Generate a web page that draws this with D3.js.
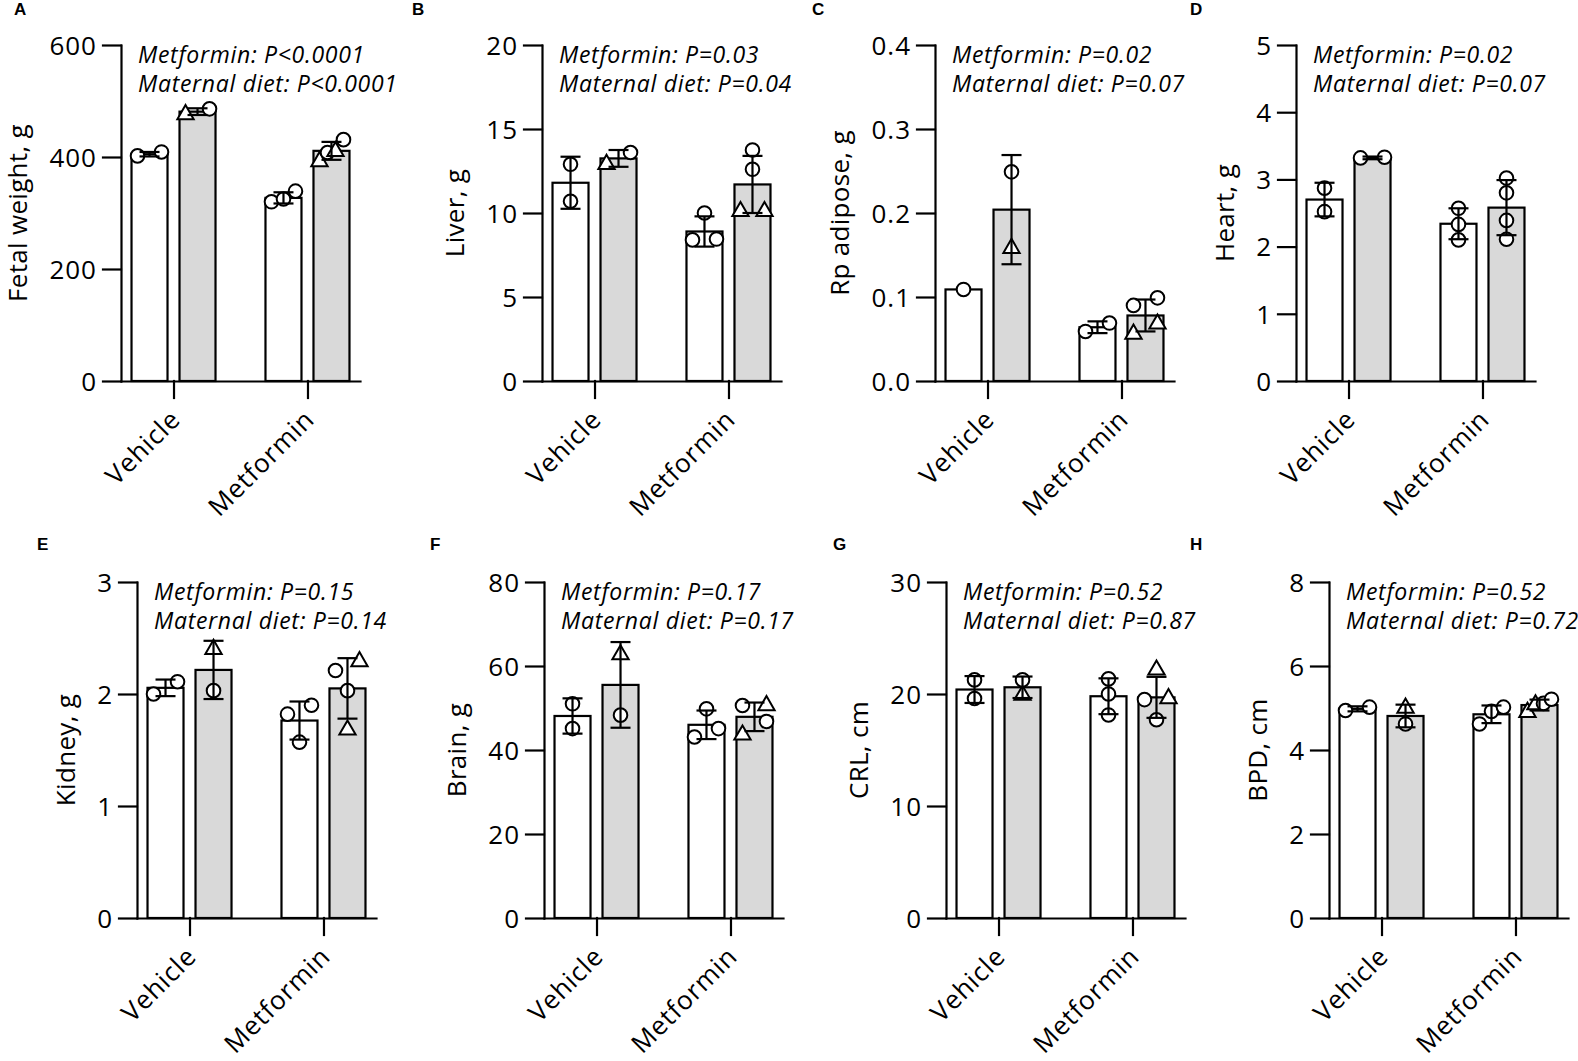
<!DOCTYPE html>
<html>
<head>
<meta charset="utf-8">
<script src="https://cdn.jsdelivr.net/npm/d3@7"></script>
<style>
    html, body { margin: 0; padding: 0; background: #fff; }
    svg { display: block; }
    text { font-family: "Open Sans", sans-serif; fill: #000; }
    .panel-letter { font-family: "Liberation Sans", Arial, sans-serif; font-weight: bold; font-size: 17px; }
    .tick-label { font-size: 26px; letter-spacing: 1px; }
    .axis-title { font-size: 26px; letter-spacing: 0.3px; }
    .cat-label { font-size: 26px; letter-spacing: 0.9px; }
    .pval { font-size: 23px; font-style: italic; letter-spacing: 0.7px; }
</style>
</head>
<body>
<div id="chart"></div>
<script>
// Datos
const PANEL_LETTERS = ['A', 'B', 'C', 'D', 'E', 'F', 'G', 'H'];
const Y_TITLES = ['Fetal weight, g', 'Liver, g', 'Rp adipose, g', 'Heart, g',
                  'Kidney, g', 'Brain, g', 'CRL, cm', 'BPD, cm'];
const Y_MAX = [600, 20, 0.4, 5, 3, 80, 30, 8];
const Y_STEP = [200, 5, 0.1, 1, 1, 20, 10, 2];
const Y_DECIMALS = [0, 0, 1, 0, 0, 0, 0, 0];
const P_METFORMIN = ['P<0.0001', 'P=0.03', 'P=0.02', 'P=0.02', 'P=0.15', 'P=0.17', 'P=0.52', 'P=0.52'];
const P_DIET = ['P<0.0001', 'P=0.04', 'P=0.07', 'P=0.07', 'P=0.14', 'P=0.17', 'P=0.87', 'P=0.72'];
const GROUPS = ['Vehicle', 'Metformin'];
const DIETS = ['control', 'diet'];

// barras por panel: [Vehicle-control, Vehicle-diet, Metformin-control, Metformin-diet]
const MEANS = [
    [405, 481, 327, 411],
    [11.8, 13.25, 8.9, 11.7],
    [0.109, 0.204, 0.064, 0.078],
    [2.70, 3.32, 2.34, 2.58],
    [2.055, 2.215, 1.763, 2.05],
    [48.1, 55.5, 46.0, 47.9],
    [20.4, 20.6, 19.8, 19.7],
    [4.98, 4.81, 4.85, 5.07]
];
const SDS = [
    [4, 6, 10, 16],
    [1.55, 0.5, 0.9, 1.7],
    [0, 0.065, 0.007, 0.019],
    [0.25, 0.02, 0.23, 0.41],
    [0.074, 0.26, 0.17, 0.27],
    [4.2, 10.2, 3.4, 3.4],
    [1.2, 0.96, 1.6, 1.83],
    [0.06, 0.27, 0.21, 0.13]
];
// puntos individuales: [valor, forma] (o = circulo, t = triangulo)
const POINTS = [
    [[[402, 'o'], [409, 'o']], [[476, 't'], [486, 'o']],
     [[320, 'o'], [339, 'o'], [325, 'o']], [[392, 't'], [410, 't'], [408, 'o'], [431, 'o']]],
    [[[12.9, 'o'], [10.7, 'o']], [[12.9, 't'], [13.6, 'o']],
     [[8.4, 'o'], [8.45, 'o'], [10.0, 'o']], [[10.1, 't'], [10.1, 't'], [12.6, 'o'], [13.75, 'o']]],
    [[[0.109, 'o']], [[0.249, 'o'], [0.158, 't']],
     [[0.059, 'o'], [0.069, 'o']], [[0.056, 't'], [0.068, 't'], [0.090, 'o'], [0.099, 'o']]],
    [[[2.87, 'o'], [2.52, 'o']], [[3.32, 'o'], [3.33, 'o']],
     [[2.57, 'o'], [2.33, 'o'], [2.10, 'o']], [[3.02, 'o'], [2.80, 'o'], [2.39, 'o'], [2.11, 'o']]],
    [[[2.0, 'o'], [2.11, 'o']], [[2.40, 't'], [2.03, 'o']],
     [[1.90, 'o'], [1.82, 'o'], [1.57, 'o']], [[2.21, 'o'], [2.29, 't'], [2.03, 'o'], [1.68, 't']]],
    [[[51.0, 'o'], [45.1, 'o']], [[62.7, 't'], [48.3, 'o']],
     [[49.8, 'o'], [43.1, 'o'], [45.1, 'o']], [[50.6, 'o'], [50.6, 't'], [46.8, 'o'], [43.6, 't']]],
    [[[21.26, 'o'], [19.6, 'o']], [[21.26, 'o'], [19.9, 't']],
     [[21.35, 'o'], [20.0, 'o'], [18.13, 'o']], [[22.16, 't'], [19.5, 'o'], [19.6, 't'], [17.7, 'o']]],
    [[[4.94, 'o'], [5.02, 'o']], [[5.0, 't'], [4.62, 'o']],
     [[5.02, 'o'], [4.92, 'o'], [4.62, 'o']], [[4.9, 't'], [5.08, 't'], [5.21, 'o'], [5.11, 'o']]]
];

// Layout
const WIDTH = 1578;
const HEIGHT = 1061;
const PLOT_W = 239;
const PLOT_H = 336;
const ORIGINS = [
    { x: 121, top: 45 }, { x: 542, top: 45 }, { x: 935, top: 45 }, { x: 1296, top: 45 },
    { x: 137, top: 582 }, { x: 544, top: 582 }, { x: 946, top: 582 }, { x: 1329, top: 582 }
];
const LETTER_POS = [
    [14, 15], [412, 15], [812, 15], [1190, 15],
    [37, 550], [430, 550], [833, 550], [1190, 550]
];
const STROKE = 2.2;
const POINT_R = 6.8;
const CLUSTER_GAP = 14;
const SPREAD = 24;
const FILLS = { control: '#ffffff', diet: '#d9d9d9' };

const svg = d3.select('#chart').append('svg')
    .attr('width', WIDTH)
    .attr('height', HEIGHT);

PANEL_LETTERS.forEach((letter, i) => drawPanel(i));

function spreadPoints(pts, y) {
    // agrupar puntos que se solapan en vertical y repartirlos en horizontal
    const sorted = pts.map((p, idx) => ({ v: p[0], shape: p[1], idx }))
        .sort((a, b) => (a.v - b.v) || (a.idx - b.idx));
    const clusters = [];
    sorted.forEach(p => {
        const last = clusters[clusters.length - 1];
        if (last && Math.abs(y(last[last.length - 1].v) - y(p.v)) < CLUSTER_GAP) last.push(p);
        else clusters.push([p]);
    });
    clusters.forEach(c => {
        const n = c.length;
        c.forEach((p, j) => { p.dx = n === 1 ? 0 : -SPREAD / 2 + j * SPREAD / (n - 1); });
    });
    return sorted;
}

function drawPanel(i) {
    const o = ORIGINS[i];

    svg.append('text')
        .attr('class', 'panel-letter')
        .attr('x', LETTER_POS[i][0])
        .attr('y', LETTER_POS[i][1])
        .text(PANEL_LETTERS[i]);

    const g = svg.append('g').attr('transform', `translate(${o.x},${o.top})`);

    const y = d3.scaleLinear().domain([0, Y_MAX[i]]).range([PLOT_H, 0]);
    const x = d3.scalePoint().domain(GROUPS).range([0, PLOT_W]).padding(0.392);
    const xSub = d3.scaleBand().domain(DIETS).range([-48, 48])
        .paddingInner(0.25).paddingOuter(0.125);

    const bars = MEANS[i].map((m, k) => ({
        group: GROUPS[Math.floor(k / 2)],
        diet: DIETS[k % 2],
        mean: m,
        sd: SDS[i][k],
        pts: spreadPoints(POINTS[i][k], y)
    }));
    bars.forEach(b => { b.cx = x(b.group) + xSub(b.diet) + xSub.bandwidth() / 2; });

    // Barras
    g.selectAll('rect.bar')
        .data(bars)
        .enter().append('rect')
        .attr('class', 'bar')
        .attr('x', d => d.cx - xSub.bandwidth() / 2)
        .attr('y', d => y(d.mean))
        .attr('width', xSub.bandwidth())
        .attr('height', d => y(0) - y(d.mean))
        .attr('fill', d => FILLS[d.diet])
        .attr('stroke', '#000')
        .attr('stroke-width', STROKE);

    // Puntos
    const tri = d3.symbol().type(d3.symbolTriangle).size(115);
    bars.forEach(b => {
        const pg = g.append('g');
        b.pts.forEach(p => {
            const px = b.cx + p.dx;
            const py = y(p.v);
            if (p.shape === 'o') {
                pg.append('circle')
                    .attr('cx', px).attr('cy', py).attr('r', POINT_R)
                    .attr('fill', '#fff').attr('stroke', '#000').attr('stroke-width', 2);
            } else {
                pg.append('path')
                    .attr('d', tri())
                    .attr('transform', `translate(${px},${py})`)
                    .attr('fill', '#fff').attr('stroke', '#000').attr('stroke-width', 2)
                    .attr('stroke-linejoin', 'miter');
            }
        });
    });

    // Barras de error (media +/- DE)
    const eb = g.selectAll('g.err')
        .data(bars.filter(b => b.sd > 0))
        .enter().append('g')
        .attr('class', 'err')
        .attr('stroke', '#000')
        .attr('stroke-width', STROKE);
    eb.append('line')
        .attr('x1', d => d.cx).attr('x2', d => d.cx)
        .attr('y1', d => y(d.mean - d.sd)).attr('y2', d => y(d.mean + d.sd));
    eb.append('line')
        .attr('x1', d => d.cx - 10).attr('x2', d => d.cx + 10)
        .attr('y1', d => y(d.mean + d.sd)).attr('y2', d => y(d.mean + d.sd));
    eb.append('line')
        .attr('x1', d => d.cx - 10).attr('x2', d => d.cx + 10)
        .attr('y1', d => y(d.mean - d.sd)).attr('y2', d => y(d.mean - d.sd));

    // Eje Y
    const ticks = d3.range(0, Y_MAX[i] + Y_STEP[i] / 2, Y_STEP[i]);
    const yAxis = g.append('g')
        .call(d3.axisLeft(y)
            .tickValues(ticks)
            .tickSize(18)
            .tickSizeOuter(0)
            .tickPadding(6)
            .tickFormat(d3.format(`.${Y_DECIMALS[i]}f`)))
        .attr('font-size', null)
        .attr('font-family', null);
    yAxis.selectAll('path, line').attr('stroke', '#000').attr('stroke-width', STROKE)
        .attr('stroke-linecap', 'square');
    yAxis.selectAll('text').attr('class', 'tick-label').attr('dy', '0.36em').attr('fill', '#000');

    // Eje X
    const xAxis = g.append('g')
        .attr('transform', `translate(0,${PLOT_H})`)
        .call(d3.axisBottom(x).tickSize(17).tickSizeOuter(0))
        .attr('font-size', null)
        .attr('font-family', null);
    xAxis.selectAll('path, line').attr('stroke', '#000').attr('stroke-width', STROKE)
        .attr('stroke-linecap', 'square');
    xAxis.selectAll('text')
        .attr('class', 'cat-label')
        .attr('fill', '#000')
        .attr('y', 0)
        .attr('dy', 0)
        .attr('text-anchor', 'end')
        .attr('transform', 'translate(8,40) rotate(-45)');

    // Titulo del eje Y, a la izquierda de las etiquetas
    let minX = 0;
    yAxis.selectAll('text').each(function () {
        const bb = this.getBBox();
        minX = Math.min(minX, -18 - 6 - bb.width);
    });
    const tx = minX - 22;
    g.append('text')
        .attr('class', 'axis-title')
        .attr('text-anchor', 'middle')
        .attr('transform', `translate(${tx},${PLOT_H / 2}) rotate(-90)`)
        .text(Y_TITLES[i]);

    // Valores P
    g.append('text').attr('class', 'pval')
        .attr('x', 17).attr('y', 18)
        .text(`Metformin: ${P_METFORMIN[i]}`);
    g.append('text').attr('class', 'pval')
        .attr('x', 17).attr('y', 47)
        .text(`Maternal diet: ${P_DIET[i]}`);
}
</script>
</body>
</html>
